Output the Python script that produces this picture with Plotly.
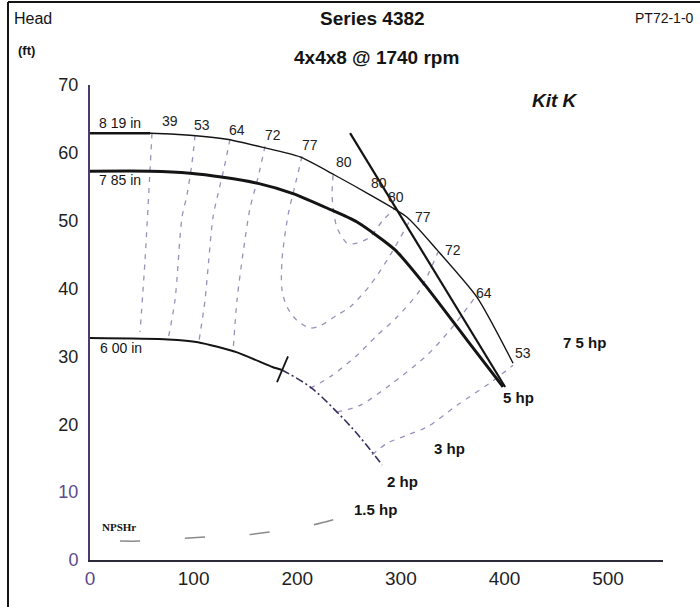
import plotly.graph_objects as go

# ---- Head-capacity curves (flow in gpm, head in ft) ----
q_819 = [0, 58, 96.5, 132, 167, 202.7, 236.5, 270.3, 306, 334.9, 373.6, 408.3]
h_819 = [62.9, 62.9, 62.6, 62.0, 60.8, 59.4, 56.7, 53.8, 50.5, 45.7, 38.7, 29.0]

q_785 = [0, 58, 96.5, 128.4, 162.2, 195.9, 229.7, 257.7, 294.4, 323.4, 363.9, 398.6]
h_785 = [57.3, 57.3, 57.0, 56.4, 55.5, 54.0, 51.8, 49.8, 45.7, 40.5, 32.4, 25.5]

q_600 = [0, 75.3, 104.2, 141.9, 176.6, 185.3]
h_600 = [32.7, 32.5, 32.1, 30.6, 28.4, 28.0]
q_600_ext = [185.3, 212.4, 238.4, 260.6, 281.9]
h_600_ext = [28.0, 25.5, 21.8, 18.1, 14.0]

# end-of-curve limit line
q_limit = [251.0, 400.6]
h_limit = [62.9, 25.5]

# minimum-flow marker on the 6.00 in curve
q_minflow = [180.5, 191.1]
h_minflow = [26.2, 30.0]

# ---- Iso-efficiency lines (%) ----
eff_lines = {
    "39": ([59.8, 57.9, 53.1, 48.3], [62.9, 57.4, 44.2, 33.6]),
    "53": ([101.4, 98.5, 93.6, 88.8, 82.0, 75.3], [62.6, 58.6, 53.8, 50.5, 38.3, 32.5]),
    "64": ([135.1, 129.3, 123.6, 118.7, 113.9, 111.0, 105.2], [62.0, 57.7, 54.0, 50.5, 43.0, 38.3, 32.3]),
    "72": ([168.9, 162.2, 154.4, 147.7, 141.9, 138.0], [61.0, 56.4, 51.8, 45.2, 38.3, 30.6]),
    "77": ([204.6, 197.9, 191.1, 185.3, 185.3, 190.1, 199.8, 212.4, 222.0, 238.4, 251.0, 270.3, 289.6, 308.9],
           [59.5, 55.2, 50.8, 44.2, 39.8, 37.3, 35.3, 34.2, 34.5, 36.1, 37.3, 40.5, 44.9, 50.1]),
    "80": ([234.6, 233.6, 234.6, 238.4, 248.1, 257.7, 270.3, 282.8, 294.4],
           [56.7, 54.0, 52.0, 49.0, 46.7, 46.7, 47.6, 50.1, 51.8]),
    "72r": ([212.4, 231.7, 255.8, 277.0, 296.3, 318.5, 335.9], [25.3, 27.0, 29.9, 33.1, 35.8, 39.8, 45.4]),
    "64r": ([238.4, 260.6, 289.6, 325.3, 347.5, 371.6], [21.8, 22.8, 25.8, 30.2, 33.9, 38.7]),
    "53r": ([272.2, 286.7, 306.0, 325.3, 354.2, 386.1, 408.3], [15.5, 17.2, 18.4, 19.6, 22.8, 26.1, 28.7]),
}

# ---- NPSH required ----
q_npsh = [28.9, 51.1, 122.6, 138.0, 185.0, 201.0, 216.0, 236.5]
h_npsh = [2.8, 2.8, 3.5, 3.5, 4.4, 4.9, 5.2, 6.0]

# ---- Labels ----
eff_labels = ["39", "53", "64", "72", "77", "80", "80", "80", "77", "72", "64", "53"]
eff_label_q = [77.2, 108.1, 141.9, 176.6, 212.4, 245.2, 279.0, 295.4, 321.4, 350.4, 380.3, 418.0]
eff_label_h = [64.7, 64.1, 63.3, 62.6, 61.1, 58.6, 55.5, 53.5, 50.5, 45.7, 39.3, 30.5]

dia_labels = ["8 19 in", "7 85 in", "6 00 in"]
dia_label_q = [29, 29, 30]
dia_label_h = [64.4, 56.0, 31.2]

hp_labels = ["1.5 hp", "2 hp", "3 hp", "5 hp", "7 5 hp"]
hp_label_q = [275.1, 301.2, 346.5, 413.1, 476.8]
hp_label_h = [7.4, 11.5, 16.5, 24.0, 32.0]

x_ticks = [0, 100, 200, 300, 400, 500]
y_ticks = [0, 10, 20, 30, 40, 50, 60, 70]

NARROW = "Liberation Sans Narrow, Arial Narrow, Liberation Sans, Arial, sans-serif"
SANS = "Liberation Sans, Arial, sans-serif"
INK = "#141414"
PURPLE = "#4a3b6e"
EFF = "rgba(115,95,160,0.7)"

fig = go.Figure()

for name, (qs, hs) in eff_lines.items():
    fig.add_trace(go.Scatter(x=qs, y=hs, mode="lines",
                             line=dict(color=EFF, width=1.3, dash="5px,6px", shape="spline", smoothing=0.8),
                             hoverinfo="skip", showlegend=False))

fig.add_trace(go.Scatter(x=q_npsh, y=h_npsh, mode="lines",
                         line=dict(color="#8a8a8a", width=1.5, dash="20px,45px", shape="spline"),
                         hoverinfo="skip", showlegend=False))

fig.add_trace(go.Scatter(x=q_600_ext, y=h_600_ext, mode="lines",
                         line=dict(color="#3b2d5e", width=1.6, dash="8px,3px,2px,3px", shape="spline"),
                         hoverinfo="skip", showlegend=False))
fig.add_trace(go.Scatter(x=q_600, y=h_600, mode="lines",
                         line=dict(color=INK, width=2, shape="spline", smoothing=0.6),
                         hoverinfo="skip", showlegend=False))
fig.add_trace(go.Scatter(x=q_819, y=h_819, mode="lines",
                         line=dict(color=INK, width=1.4, shape="spline", smoothing=0.6),
                         hoverinfo="skip", showlegend=False))
fig.add_trace(go.Scatter(x=q_819[:2], y=h_819[:2], mode="lines",
                         line=dict(color=INK, width=2.6),
                         hoverinfo="skip", showlegend=False))
fig.add_trace(go.Scatter(x=q_785, y=h_785, mode="lines",
                         line=dict(color=INK, width=3, shape="spline", smoothing=0.6),
                         hoverinfo="skip", showlegend=False))
fig.add_trace(go.Scatter(x=q_limit, y=h_limit, mode="lines",
                         line=dict(color=INK, width=2.2),
                         hoverinfo="skip", showlegend=False))
fig.add_trace(go.Scatter(x=q_minflow, y=h_minflow, mode="lines",
                         line=dict(color=INK, width=1.8),
                         hoverinfo="skip", showlegend=False))

ann = []
for t, q, h in zip(eff_labels, eff_label_q, eff_label_h):
    ann.append(dict(x=q, y=h, text=t, showarrow=False, font=dict(family=NARROW, size=14, color="#222")))
for t, q, h in zip(dia_labels, dia_label_q, dia_label_h):
    ann.append(dict(x=q, y=h, text=t, showarrow=False, font=dict(family=NARROW, size=14, color=INK)))
for t, q, h in zip(hp_labels, hp_label_q, hp_label_h):
    ann.append(dict(x=q, y=h, text="<b>" + t + "</b>", showarrow=False, font=dict(family=NARROW, size=15, color=INK)))
ann.append(dict(x=28, y=4.9, text="<b>NPSHr</b>", showarrow=False,
                font=dict(family="Liberation Serif, Times New Roman, serif", size=11, color=INK)))
ann.append(dict(x=448.8, y=67.7, text="<b><i>Kit K</i></b>", showarrow=False,
                font=dict(family=SANS, size=19, color=INK)))

# page header, positioned in paper units relative to the plot area
def px(xp):
    return (xp - 90) / 573.0

def py(yp):
    return (560 - yp) / 475.0

header = [
    ("Head", 12, 19, "left", NARROW, 16, False),
    ("(ft)", 16, 50, "left", NARROW, 13, True),
    ("Series 4382", 372, 19, "center", SANS, 19, True),
    ("4x4x8 @ 1740 rpm", 376, 57, "center", SANS, 19, True),
    ("PT72-1-0", 696, 18, "right", NARROW, 14, False),
]
for text, xp, yp, align, fam, size, bold in header:
    ann.append(dict(xref="paper", yref="paper", x=px(xp), y=py(yp), xanchor=align, yanchor="middle",
                    text=("<b>%s</b>" % text) if bold else text, showarrow=False,
                    font=dict(family=fam, size=size, color=INK)))

# outer frame: left and top rules
shapes = [
    dict(type="line", xref="paper", yref="paper", x0=px(8), x1=px(8), y0=py(2), y1=py(607),
         line=dict(color=INK, width=2)),
    dict(type="line", xref="paper", yref="paper", x0=px(8), x1=px(700), y0=py(2), y1=py(2),
         line=dict(color=INK, width=2)),
]

def tick_text(v):
    color = "#5b4a8a" if v in (0, 10) else "#1e1e1e"
    return '<span style="color:%s">%d</span>' % (color, v)

fig.update_layout(
    width=700, height=607,
    margin=dict(l=90, r=37, t=85, b=47),
    paper_bgcolor="white", plot_bgcolor="white",
    annotations=ann, shapes=shapes,
    xaxis=dict(range=[0, 553], showgrid=False, zeroline=False, showline=True,
               linecolor="#2e2a38", linewidth=2, ticks="",
               tickvals=x_ticks, ticktext=[tick_text(v) if v == 0 else str(v) for v in x_ticks],
               tickfont=dict(family=SANS, size=19, color="#1e1e1e"), ticklabelstandoff=0),
    yaxis=dict(range=[0, 70], showgrid=False, zeroline=False, showline=True,
               linecolor=PURPLE, linewidth=2, ticks="",
               tickvals=y_ticks, ticktext=[tick_text(v) for v in y_ticks],
               tickfont=dict(family=SANS, size=18, color="#1e1e1e"), ticklabelstandoff=6),
    showlegend=False,
)

fig.write_html("out.html")
